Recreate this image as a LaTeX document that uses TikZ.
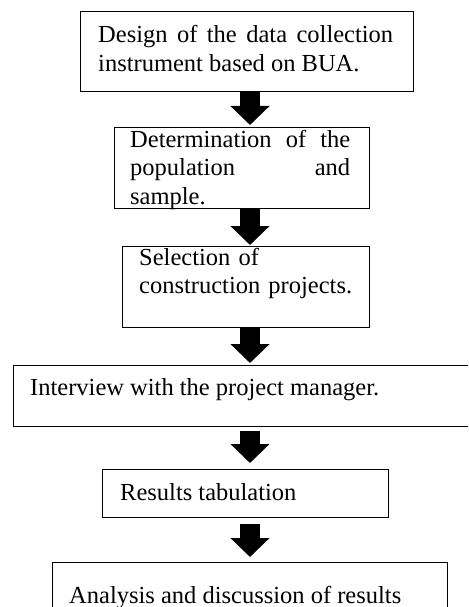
\documentclass[tikz,border=0pt]{standalone}
\usepackage{fontspec}
\setmainfont{Liberation Serif}
\usetikzlibrary{arrows.meta}
\tikzset{
	box/.style={draw, line width=1.4pt, inner sep=0pt, anchor=north west},
	txt/.style={inner sep=0pt, anchor=base west, font=\fontsize{24.5}{28.5}\selectfont},
	flow/.style={line width=20pt, -{Triangle[width=38pt,length=19pt]}}
}
\begin{document}
\begin{tikzpicture}[x=1pt,y=-1pt]
	\useasboundingbox (0,0) rectangle (468,607);
	\clip (0,0) rectangle (468,607);
	\coordinate (axis) at (250,0);
	\node [box, minimum width=333pt, minimum height=80pt] (b1) at (80,11) {};
	\node [box, minimum width=255pt, minimum height=81pt] (b2) at (114,127) {};
	\node [box, minimum width=247pt, minimum height=81pt] (b3) at (122,246) {};
	\node [box, minimum width=462pt, minimum height=61pt] (b4) at (13,365) {};
	\node [box, minimum width=286pt, minimum height=48pt] (b5) at (102,469) {};
	\node [box, minimum width=395pt, minimum height=60pt] (b6) at (52,562) {};
	\node [txt, text width=295pt, align=justify] (t1) at (98,43) {Design of the data collection instrument based on BUA.};
	\node [txt, text width=220pt, align=justify] (t2) at (130,147) {Determination of the\linebreak population and\linebreak sample.};
	\node [txt, text width=228pt, align=left] (t3) at (139,265) {Selection of\\construction projects.};
	\node [txt] (t4) at (30,395) {Interview with the project manager.};
	\node [txt] (t5) at (120,500) {Results tabulation};
	\node [txt] (t6) at (69,603) {Analysis and discussion of results};
	\draw [flow, shorten >=2pt] (b1.south -| axis) -- (b2.north -| axis);
	\draw [flow, shorten >=1pt] (b2.south -| axis) -- (b3.north -| axis);
	\draw [flow, shorten >=2pt] (b3.south -| axis) -- (b4.north -| axis);
	\draw [flow, shorten <=4pt, shorten >=6pt] (b4.south -| axis) -- (b5.north -| axis);
	\draw [flow, shorten <=6pt, shorten >=5pt] (b5.south -| axis) -- (b6.north -| axis);
\end{tikzpicture}
\end{document}
